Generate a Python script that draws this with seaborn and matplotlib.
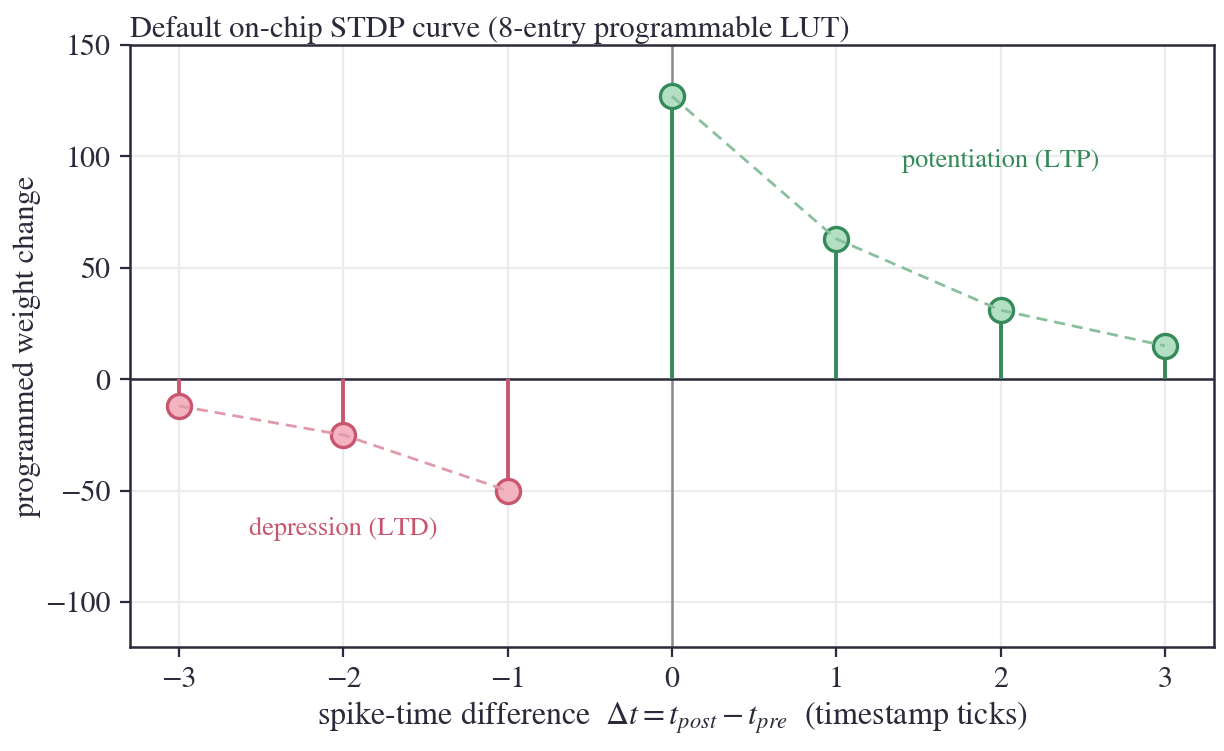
import numpy as np
import pandas as pd
import matplotlib
matplotlib.use("Agg")
import matplotlib.pyplot as plt
import seaborn as sns

# LUT entries
ltd_dt = [-3, -2, -1]
ltd_dw = [-12, -25, -50]
ltp_dt = [0, 1, 2, 3]
ltp_dw = [127, 63, 31, 15]

ltp_col = "#358a59"
ltd_col = "#c8566e"

sns.set_theme(style="ticks")
plt.rcParams["font.family"] = ["STIXGeneral", "DejaVu Serif"]
plt.rcParams["mathtext.fontset"] = "stix"
plt.rcParams["axes.edgecolor"] = "#2a2a3a"
plt.rcParams["xtick.color"] = "#2a2a3a"
plt.rcParams["ytick.color"] = "#2a2a3a"
plt.rcParams["text.color"] = "#2a2a3a"
plt.rcParams["axes.labelcolor"] = "#2a2a3a"

fig, ax = plt.subplots(figsize=(6.12, 3.755), dpi=200)

ax.grid(True, color="#ececec", lw=0.8, zorder=0)
ax.axhline(0, color="#2a2a3a", lw=0.9, zorder=2)
ax.axvline(0, color="#8a8a92", lw=0.9, zorder=1)

ltd = pd.DataFrame({"dt": ltd_dt, "dw": ltd_dw})
ltp = pd.DataFrame({"dt": ltp_dt, "dw": ltp_dw})

ax.vlines(ltd["dt"], 0, ltd["dw"], color=ltd_col, lw=1.4, zorder=3)
ax.vlines(ltp["dt"], 0, ltp["dw"], color=ltp_col, lw=1.4, zorder=3)

sns.scatterplot(data=ltd, x="dt", y="dw", ax=ax, s=75, color="#f4b3c0",
                edgecolor=ltd_col, linewidth=1.2, zorder=4, legend=False)
sns.scatterplot(data=ltp, x="dt", y="dw", ax=ax, s=75, color="#b3e0c2",
                edgecolor=ltp_col, linewidth=1.2, zorder=4, legend=False)

sns.lineplot(data=ltd, x="dt", y="dw", ax=ax, color="#e09aa9", lw=1.0,
             linestyle=(0, (4, 2.5)), zorder=5)
sns.lineplot(data=ltp, x="dt", y="dw", ax=ax, color="#88bf9c", lw=1.0,
             linestyle=(0, (4, 2.5)), zorder=5)

ax.text(2.0, 98, "potentiation (LTP)", color=ltp_col, fontsize=9.5,
        ha="center", va="center")
ax.text(-2.0, -67, "depression (LTD)", color=ltd_col, fontsize=9.5,
        ha="center", va="center")

ax.set_xlim(-3.3, 3.3)
ax.set_ylim(-120, 150)
ax.set_xticks([-3, -2, -1, 0, 1, 2, 3])
ax.set_yticks([-100, -50, 0, 50, 100, 150])
ax.tick_params(labelsize=10.8, length=3.5, width=0.8)
ax.set_xlabel(r"spike-time difference  $\Delta t = t_{post} - t_{pre}$  (timestamp ticks)",
              fontsize=11.5, labelpad=2)
ax.set_ylabel("programmed weight change", fontsize=11, labelpad=1.5)
ax.set_title("Default on-chip STDP curve (8-entry programmable LUT)",
             loc="left", fontsize=11, pad=3)
for s in ax.spines.values():
    s.set_linewidth(0.9)

fig.subplots_adjust(left=0.106, right=0.992, top=0.94, bottom=0.139)
fig.savefig("out.png", dpi=200)
